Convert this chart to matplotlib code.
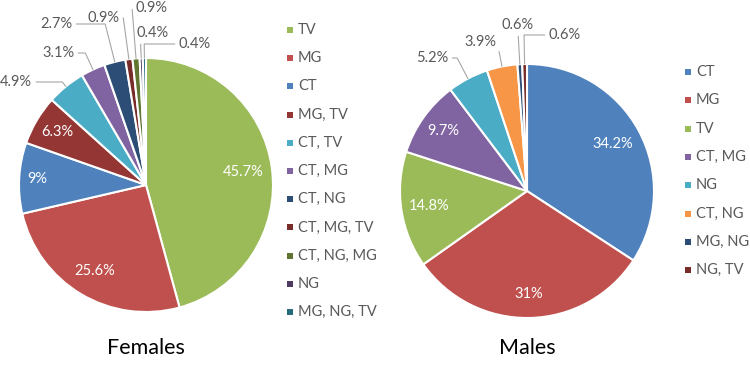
import numpy as np
import matplotlib.pyplot as plt

plt.rcParams['font.family'] = ['Lato', 'DejaVu Sans']

# data
female_labels = ['TV', 'MG', 'CT', 'MG, TV', 'CT, TV', 'CT, MG', 'CT, NG',
                 'CT, MG, TV', 'CT, NG, MG', 'NG', 'MG, NG, TV']
female_values = [45.7, 25.6, 9, 6.3, 4.9, 3.1, 2.7, 0.9, 0.9, 0.4, 0.4]
female_colors = ['#9BBB59', '#C0504D', '#4F81BD', '#943634', '#4BACC6', '#8064A2',
                 '#2C4D75', '#772C2A', '#5F7530', '#4D3B62', '#276A7C']

male_labels = ['CT', 'MG', 'TV', 'CT, MG', 'NG', 'CT, NG', 'MG, NG', 'NG, TV']
male_values = [34.2, 31, 14.8, 9.7, 5.2, 3.9, 0.6, 0.6]
male_colors = ['#4F81BD', '#C0504D', '#9BBB59', '#8064A2', '#4BACC6', '#F79646',
               '#2C4D75', '#772C2A']

# layout (pixels, y measured from the top)
W, H = 750, 367
GRAY = '#595959'
FS = 10.5

fig = plt.figure(figsize=(W / 100, H / 100), dpi=100)
ax = fig.add_axes([0, 0, 1, 1])


def draw_pie(values, colors, center, r, inside, outside):
    cx, cy = center[0], H - center[1]
    wedges, _ = ax.pie(values, colors=colors, startangle=90, counterclock=False,
                       radius=r, center=(cx, cy),
                       wedgeprops=dict(edgecolor='white', linewidth=1.5))
    for i, w in enumerate(wedges):
        mid = np.deg2rad((w.theta1 + w.theta2) / 2)
        txt = f'{values[i]:g}%'
        if i in inside:
            frac = inside[i]
            ax.text(cx + frac * r * np.cos(mid), cy + frac * r * np.sin(mid), txt,
                    color='white', fontsize=FS, ha='center', va='center')
        elif i in outside:
            lx, ly = outside[i]
            ex, ey = cx + r * np.cos(mid), cy + r * np.sin(mid)
            ax.annotate(txt, xy=(ex, ey), xytext=(lx, H - ly), color=GRAY,
                        fontsize=FS, ha='center', va='center',
                        arrowprops=dict(arrowstyle='-', color='#A6A6A6', lw=0.8,
                                        shrinkA=1, shrinkB=0,
                                        connectionstyle=f'angle,angleA=0,angleB={np.rad2deg(mid):.1f},rad=0'))


def draw_legend(labels, colors, x, y0, step):
    for i, (lab, col) in enumerate(zip(labels, colors)):
        y = H - (y0 + i * step)
        ax.scatter([x], [y], marker='s', s=20, color=col, linewidths=0)
        ax.text(x + 8, y, lab, color=GRAY, fontsize=FS, va='center', ha='left')


draw_pie(female_values, female_colors, (146, 185), 127,
         inside={0: 0.77, 1: 0.79, 2: 0.86, 3: 0.81},
         outside={4: (16, 82), 5: (58, 53), 6: (56, 24), 7: (103, 18),
                  8: (151, 8), 9: (153, 33), 10: (195, 44)})
draw_pie(male_values, male_colors, (527, 191), 127,
         inside={0: 0.77, 1: 0.81, 2: 0.78, 3: 0.81},
         outside={4: (432, 58), 5: (480, 42), 6: (518, 25), 7: (565, 35)})

draw_legend(female_labels, female_colors, 290, 30, 28.2)
draw_legend(male_labels, male_colors, 688, 72, 28.3)

ax.text(146, H - 348, 'Females', fontsize=15.5, ha='center', va='center')
ax.text(527, H - 348, 'Males', fontsize=15.5, ha='center', va='center')

ax.set_xlim(0, W)
ax.set_ylim(0, H)
ax.set_aspect('auto')
ax.axis('off')

fig.savefig('out.png', dpi=100)
